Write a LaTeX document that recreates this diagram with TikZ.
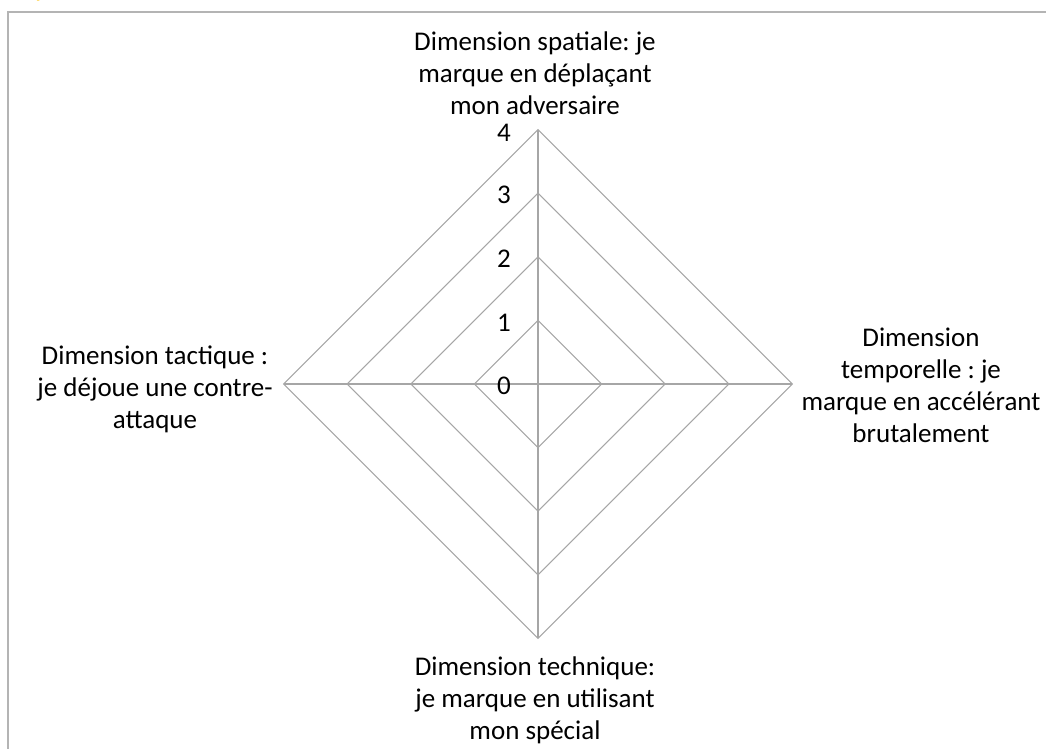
\documentclass[tikz,border=0pt]{standalone}
\usepackage{fontspec}
\setmainfont{Carlito}
\frenchspacing
\definecolor{gridgray}{HTML}{A6A6A6}
\definecolor{framegray}{HTML}{B4B4B4}
\definecolor{titleyellow}{HTML}{FFC000}
\begin{document}
\begin{tikzpicture}[x=1pt, y=1pt,
        grid/.style = {draw=gridgray, line width=1.1pt, line join=miter},
        axislabel/.style = {align=center, inner sep=0pt, font=\fontsize{27}{32}\selectfont},
        ticklabel/.style = {inner sep=0pt, font=\fontsize{27}{30}\selectfont}]
        \useasboundingbox (-538,-365) rectangle (508,384);
        % frame of the chart area
        \draw[framegray, line width=1.2pt] (-530,-366) -- (-530,372) -- (509,372);
        \node[titleyellow, anchor=base west, inner sep=0pt, font=\fontsize{28}{30}\selectfont\rmfamily] (title) at (-503,387) {p};
        % axes
        \coordinate (center)  at (   0,    0);
        \coordinate (top)     at (   0,  254.4);
        \coordinate (right)   at ( 254.4,  0);
        \coordinate (bottom)  at (   0, -254.4);
        \coordinate (left)    at (-254.4,  0);
        \draw[grid] (top) -- (bottom);
        \draw[grid] (left) -- (right);
        % rings
        \draw[grid] ( 0, 63.6) -- ( 63.6,0) -- (0, -63.6) -- ( -63.6,0) -- cycle;
        \draw[grid] ( 0,127.2) -- (127.2,0) -- (0,-127.2) -- (-127.2,0) -- cycle;
        \draw[grid] ( 0,190.8) -- (190.8,0) -- (0,-190.8) -- (-190.8,0) -- cycle;
        \draw[grid] (top) -- (right) -- (bottom) -- (left) -- cycle;
        % scale
        \node[ticklabel] (t0) at (-34, -2)   {0};
        \node[ticklabel] (t1) at (-34, 61.6) {1};
        \node[ticklabel] (t2) at (-34,125.2) {2};
        \node[ticklabel] (t3) at (-34,188.8) {3};
        \node[ticklabel] (t4) at (-34,251.4) {4};
        % dimensions
        \node[axislabel] (spatial)  at (  -3, 311) {Dimension spatiale: je\\marque en déplaçant\\mon adversaire};
        \node[axislabel] (temporal) at ( 383,  -1) {Dimension\\temporelle : je\\marque en accélérant\\brutalement};
        \node[axislabel] (technical) at ( -3,-316) {Dimension technique:\\je marque en utilisant\\mon spécial};
        \node[axislabel] (tactical) at (-383, -5) {Dimension tactique :\\je déjoue une contre-\\attaque};
\end{tikzpicture}
\end{document}
